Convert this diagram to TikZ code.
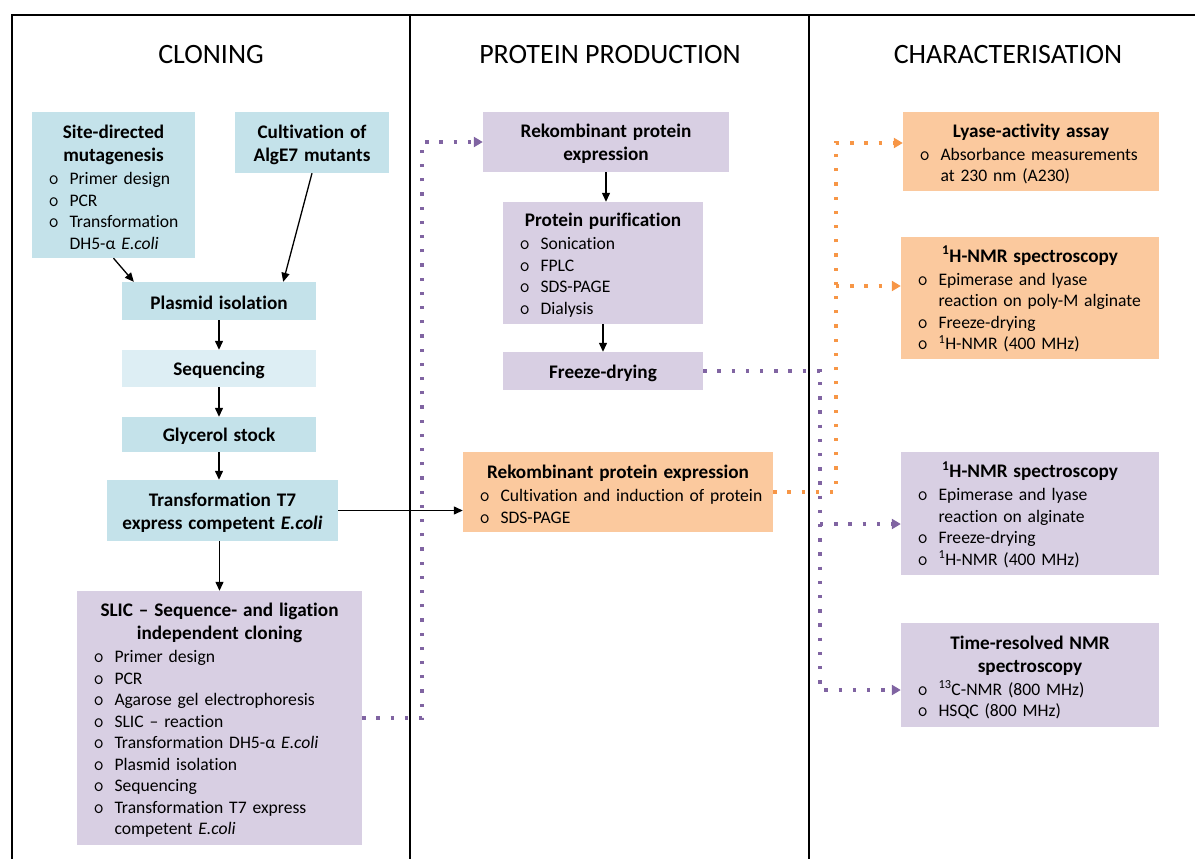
\documentclass[tikz,border=0pt]{standalone}
\usepackage{fontspec}
\setmainfont{Carlito}[Ligatures=NoCommon]
\usetikzlibrary{arrows.meta,calc}
\definecolor{blu}{RGB}{196,226,234}
\definecolor{lblu}{RGB}{221,238,244}
\definecolor{lpur}{RGB}{216,207,227}
\definecolor{lora}{RGB}{251,201,158}
\definecolor{dpur}{RGB}{128,100,162}
\definecolor{dora}{RGB}{247,150,70}
\newcommand{\ttl}[1]{\makebox[\linewidth][c]{\bfseries\fontsize{19.2}{23}\selectfont #1}}
\newcommand{\itm}[1]{\makebox[\linewidth][l]{\makebox[20.5pt][l]{\hspace{-0.5pt}\ttfamily\fontsize{20}{20}\selectfont o}#1}}
\newcommand{\cnt}[1]{\makebox[\linewidth][l]{\hspace*{20.5pt}#1}}
\tikzset{
  boxbase/.style={rectangle, inner xsep=17pt, inner ysep=0pt, align=left,
    font=\fontsize{17.6}{21.5}\selectfont,
    execute at begin node={\rule{0pt}{18pt}}},
  bbox/.style={boxbase, fill=blu},
  lbbox/.style={boxbase, fill=lblu},
  pbox/.style={boxbase, fill=lpur},
  obox/.style={boxbase, fill=lora},
  head/.style={font=\fontsize{28}{32}\selectfont},
  frame/.style={line width=1.3pt, black},
  arr/.style={line width=1.3pt, -{Triangle[length=9pt,width=8pt]}},
  pdot/.style={draw=dpur, line width=3.3pt, dash pattern=on 3.3pt off 10.9pt},
  odot/.style={draw=dora, line width=3.3pt, dash pattern=on 3.3pt off 10.9pt},
  ptip/.style={-{Triangle[length=9pt,width=10pt,fill=dpur]}},
  otip/.style={-{Triangle[length=9pt,width=10pt,fill=dora]}},
}
\begin{document}
\begin{tikzpicture}[x=1pt,y=-1pt]
\useasboundingbox (0,0) rectangle (1195,859);
% frame
\draw[frame] (12,859) -- (12,15) -- (1195,15);
\draw[frame] (410,15) -- (410,859);
\draw[frame] (809,15) -- (809,859);
% headings
\node[head] (h1) at (211,55) {CLONING};
\node[head] (h2) at (610,55) {PROTEIN PRODUCTION};
\node[head] (h3) at (1008,55) {CHARACTERISATION};
% cloning column
\node[bbox, text width=129pt, minimum height=146pt] (sdm) at (113.5,185)
  {\ttl{Site-directed}\\[1.5pt]\ttl{mutagenesis}\\[1.5pt]\itm{Primer design}\\\itm{PCR}\\\itm{Transformation}\\\cnt{DH5-α \textit{E.coli}}};
\node[bbox, text width=120pt, minimum height=61pt] (cult) at (312,142.5)
  {\ttl{Cultivation of}\\[1.5pt]\ttl{AlgE7 mutants}};
\node[bbox, text width=160pt, minimum height=38pt] (plas) at (219,301) {\ttl{Plasmid isolation}};
\node[lbbox, text width=160pt, minimum height=37pt] (seq) at (219,368.5) {\ttl{Sequencing}};
\node[bbox, text width=160pt, minimum height=35pt] (gly) at (219,434.5) {\ttl{Glycerol stock}};
\node[bbox, text width=197pt, minimum height=61pt] (t7) at (222.5,510.5)
  {\ttl{Transformation T7}\\[1.5pt]\ttl{express competent \textit{E.coli}}};
\node[pbox, text width=251pt, minimum height=254pt] (slic) at (219.5,718)
  {\ttl{SLIC – Sequence- and ligation}\\[1.5pt]\ttl{independent cloning}\\[1.5pt]\itm{Primer design}\\\itm{PCR}\\\itm{Agarose gel electrophoresis}\\\itm{SLIC – reaction}\\\itm{Transformation DH5-α \textit{E.coli}}\\\itm{Plasmid isolation}\\\itm{Sequencing}\\\itm{Transformation T7 express}\\\cnt{competent \textit{E.coli}}};
% protein production column
\node[pbox, text width=212pt, minimum height=60pt] (rek1) at (606,142)
  {\ttl{Rekombinant protein}\\[1.5pt]\ttl{expression}};
\node[pbox, text width=166pt, minimum height=122pt] (pur) at (603,263)
  {\ttl{Protein purification}\\[1.5pt]\itm{Sonication}\\\itm{FPLC}\\\itm{SDS-PAGE}\\\itm{Dialysis}};
\node[pbox, text width=166pt, minimum height=38pt] (fd) at (603,371) {\ttl{Freeze-drying}};
\node[obox, text width=276pt, minimum height=80pt] (ore) at (618,492)
  {\ttl{Rekombinant protein expression}\\[1.5pt]\itm{Cultivation and induction of protein}\\\itm{SDS-PAGE}};
% characterisation column
\node[obox, text width=222pt, minimum height=79pt] (lya) at (1031,151.5)
  {\ttl{Lyase-activity assay}\\[1.5pt]\itm{Absorbance measurements}\\\cnt{at 230 nm (A230)}};
\node[obox, text width=224pt, minimum height=122pt] (nmr1) at (1030,298)
  {\ttl{\textsuperscript{1}H-NMR spectroscopy}\\[1.5pt]\itm{Epimerase and lyase}\\\cnt{reaction on poly-M alginate}\\\itm{Freeze-drying}\\\itm{\textsuperscript{1}H-NMR (400 MHz)}};
\node[pbox, text width=224pt, minimum height=123pt] (nmr2) at (1030,513.5)
  {\ttl{\textsuperscript{1}H-NMR spectroscopy}\\[1.5pt]\itm{Epimerase and lyase}\\\cnt{reaction on alginate}\\\itm{Freeze-drying}\\\itm{\textsuperscript{1}H-NMR (400 MHz)}};
\node[pbox, text width=224pt, minimum height=104pt] (trn) at (1030,675)
  {\ttl{Time-resolved NMR}\\[1.5pt]\ttl{spectroscopy}\\[1.5pt]\itm{\textsuperscript{13}C-NMR (800 MHz)}\\\itm{HSQC (800 MHz)}};
% black arrows
\draw[arr] (sdm.south) -- ([xshift=12pt]plas.north west);
\draw[arr] (cult.south) -- ([xshift=-33pt]plas.north east);
\draw[arr] (plas.south) -- (seq.north);
\draw[arr] (seq.south) -- (gly.north);
\draw[arr] (gly.south) -- (gly.south |- t7.north);
\draw[arr] (slic.north |- t7.south) -- (slic.north);
\draw[arr] (t7.east) -- (t7.east -| ore.west);
\draw[arr] (rek1.south) -- (rek1.south |- pur.north);
\draw[arr] (pur.south) -- (pur.south |- fd.north);
% dotted connectors
\coordinate (sj) at (422,0);
\draw[pdot,ptip] (slic.east) -| (rek1.west -| sj) -- (rek1.west);
\coordinate (ojt) at (836,143);
\coordinate (ojm) at (836,286);
\draw[odot,otip] (ore.east) -| (ojt) -- (ojt -| lya.west);
\draw[odot,otip] (ojm) -- (ojm -| nmr1.west);
\coordinate (fjb) at (820,690);
\coordinate (fjm) at (820,524);
\draw[pdot,ptip] (fd.east) -| (fjb) -- (fjb -| trn.west);
\draw[pdot,ptip] (fjm) -- (fjm -| nmr2.west);
\end{tikzpicture}
\end{document}
